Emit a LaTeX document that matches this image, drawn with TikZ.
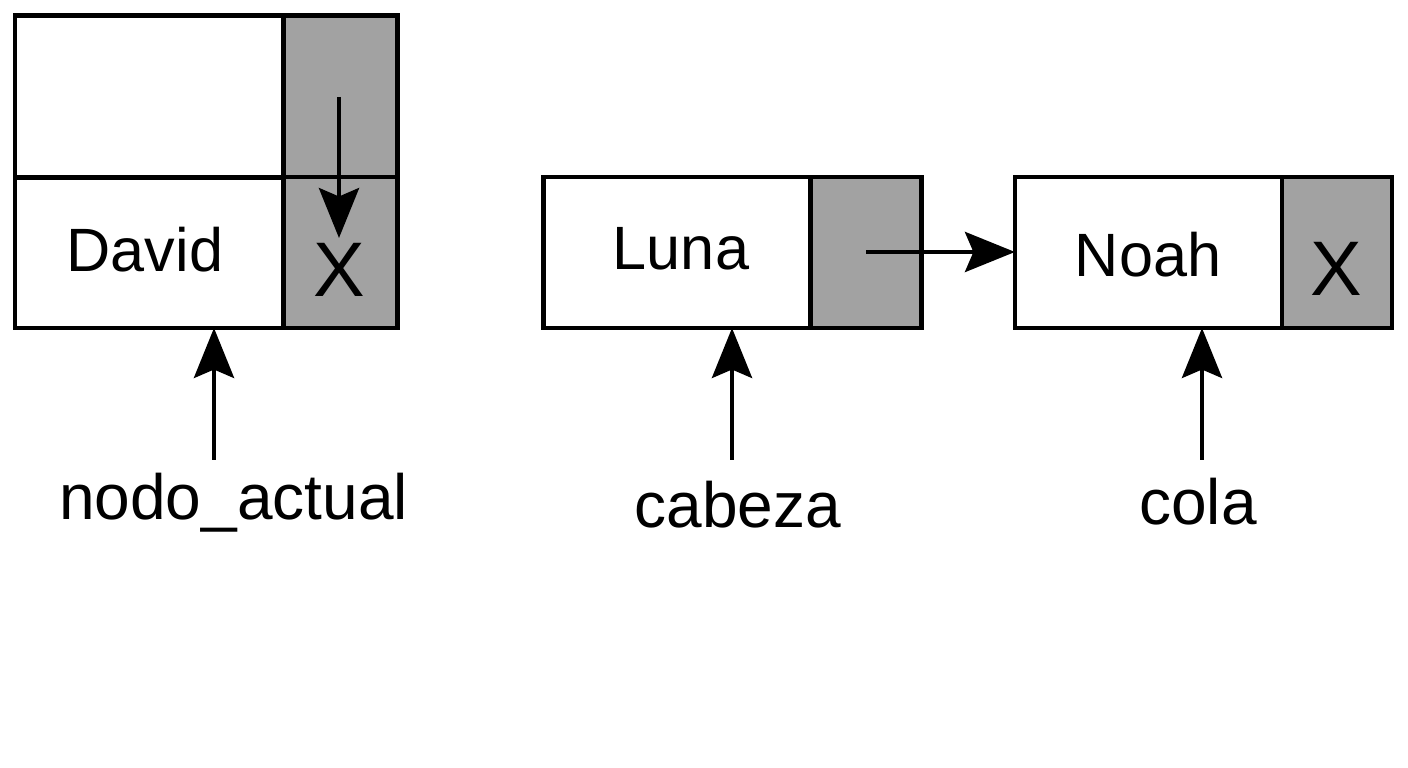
\documentclass[tikz,border=0pt]{standalone}
\usepackage{fontspec}
\setmainfont{Liberation Sans}
\usetikzlibrary{arrows.meta}
\definecolor{cellgray}{RGB}{162,162,162}
\tikzset{
  cell/.style={draw=black, line width=1.2pt, rectangle, inner sep=0pt, outer sep=0pt},
  grcell/.style={cell, fill=cellgray},
  celltxt/.style={inner sep=0pt, font=\fontsize{17.4}{19}\selectfont},
  xtxt/.style={inner sep=0pt, font=\fontsize{22}{24}\selectfont},
  lbl/.style={inner sep=0pt, anchor=base, font=\fontsize{18.2}{20}\selectfont},
  arr/.style={line width=1.2pt, -{Stealth[length=14.2pt, width=11.4pt, inset=2.4pt]}}
}
\begin{document}
\begin{tikzpicture}[x=0.01cm, y=-0.01cm]
\useasboundingbox (0,0) rectangle (1408,768);
% left structure
\node[cell, minimum width=2.68cm, minimum height=1.62cm] (tl) at (149,96.5) {};
\node[grcell, minimum width=1.14cm, minimum height=1.62cm] (tr) at (340.5,96.5) {};
\node[cell, minimum width=2.68cm, minimum height=1.51cm] (dav) at (149,252.5) {};
\node[grcell, minimum width=1.14cm, minimum height=1.51cm] (dx) at (340.5,252.5) {};
\node[celltxt] (davt) at (145,250) {David};
\node[xtxt] (dxt) at (339,270) {X};
\coordinate (ds) at (339,97);
\coordinate (de) at (339,238);
\draw[arr] (ds) -- (de);
% Luna
\node[cell, minimum width=2.67cm, minimum height=1.51cm] (luna) at (677,252.5) {};
\node[grcell, minimum width=1.11cm, minimum height=1.51cm] (lp) at (866,252.5) {};
\node[celltxt] (lunat) at (681,249) {Luna};
% Noah
\node[cell, minimum width=2.67cm, minimum height=1.51cm] (noah) at (1148.5,252.5) {};
\node[grcell, minimum width=1.10cm, minimum height=1.51cm] (np) at (1337,252.5) {};
\node[celltxt] (noaht) at (1148,255) {Noah};
\node[xtxt] (npt) at (1336,269) {X};
\coordinate (ls) at (866,252);
\draw[arr] (ls) -- (ls -| noah.west);
% labels
\node[lbl] (na) at (233.5,520) {nodo\_actual};
\node[lbl] (cab) at (738,528) {cabeza};
\node[lbl] (col) at (1198,525) {cola};
\coordinate (a1) at (214,460);
\coordinate (a2) at (732,460);
\coordinate (a3) at (1202,460);
\draw[arr] (a1) -- (a1 |- dav.south);
\draw[arr] (a2) -- (a2 |- luna.south);
\draw[arr] (a3) -- (a3 |- noah.south);
\end{tikzpicture}
\end{document}
